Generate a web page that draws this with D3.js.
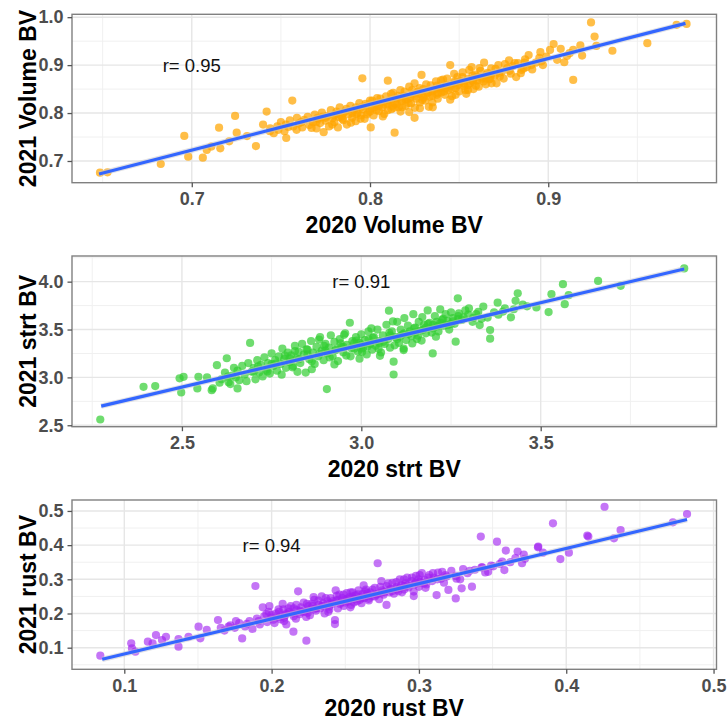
<!DOCTYPE html>
<html><head><meta charset="utf-8">
<script src="https://cdn.jsdelivr.net/npm/d3@7"></script>
<style>body{margin:0;background:#fff}svg{display:block}</style>
</head><body>
<script>
// ---------- DATA ----------
const volumePoints = [[0.6485,0.6756],[0.6527,0.6764],[0.6826,0.6937],[0.6958,0.7522],[0.698,0.709],[0.7062,0.707],[0.7084,0.723],[0.711,0.730],[0.7153,0.7695],[0.716,0.7265],[0.7243,0.794],[0.7252,0.759],[0.721,0.741],[0.736,0.731],[0.731,0.752],[0.742,0.803],[0.740,0.776],[0.744,0.768],[0.746,0.758],[0.748,0.772],[0.750,0.781],[0.752,0.762],[0.753,0.748],[0.755,0.785],[0.7564,0.826],[0.757,0.772],[0.759,0.790],[0.760,0.778],[0.762,0.770],[0.763,0.786],[0.765,0.792],[0.766,0.775],[0.768,0.781],[0.769,0.797],[0.770,0.768],[0.771,0.788],[0.772,0.779],[0.773,0.801],[0.774,0.760],[0.775,0.784],[0.776,0.794],[0.777,0.772],[0.778,0.806],[0.779,0.789],[0.780,0.781],[0.781,0.798],[0.782,0.770],[0.783,0.812],[0.784,0.793],[0.785,0.785],[0.786,0.803],[0.787,0.776],[0.788,0.797],[0.789,0.815],[0.790,0.790],[0.791,0.806],[0.792,0.783],[0.793,0.800],[0.794,0.821],[0.795,0.795],[0.7957,0.8725],[0.796,0.808],[0.797,0.788],[0.798,0.815],[0.799,0.801],[0.8004,0.770],[0.800,0.826],[0.801,0.810],[0.802,0.795],[0.803,0.818],[0.804,0.831],[0.805,0.804],[0.806,0.822],[0.807,0.812],[0.808,0.798],[0.809,0.835],[0.810,0.8676],[0.810,0.818],[0.811,0.826],[0.812,0.808],[0.813,0.842],[0.8138,0.759],[0.814,0.820],[0.815,0.830],[0.816,0.812],[0.817,0.848],[0.818,0.825],[0.819,0.836],[0.820,0.815],[0.821,0.829],[0.822,0.855],[0.823,0.820],[0.824,0.839],[0.825,0.790],[0.825,0.862],[0.826,0.830],[0.827,0.845],[0.828,0.822],[0.8289,0.8795],[0.829,0.838],[0.830,0.850],[0.831,0.826],[0.832,0.842],[0.833,0.813],[0.834,0.858],[0.835,0.836],[0.836,0.848],[0.837,0.866],[0.838,0.830],[0.839,0.852],[0.840,0.843],[0.841,0.870],[0.842,0.838],[0.843,0.858],[0.844,0.848],[0.845,0.900],[0.846,0.835],[0.847,0.862],[0.848,0.852],[0.849,0.875],[0.850,0.845],[0.851,0.866],[0.852,0.885],[0.853,0.856],[0.854,0.840],[0.855,0.872],[0.856,0.862],[0.857,0.896],[0.858,0.850],[0.859,0.880],[0.860,0.868],[0.861,0.855],[0.862,0.888],[0.863,0.874],[0.864,0.905],[0.865,0.860],[0.866,0.884],[0.867,0.870],[0.868,0.893],[0.870,0.878],[0.871,0.862],[0.872,0.900],[0.874,0.886],[0.875,0.872],[0.877,0.894],[0.878,0.910],[0.879,0.882],[0.880,0.898],[0.882,0.875],[0.883,0.904],[0.885,0.890],[0.887,0.912],[0.888,0.896],[0.889,0.921],[0.891,0.891],[0.893,0.905],[0.895,0.915],[0.8956,0.927],[0.897,0.900],[0.899,0.918],[0.901,0.9317],[0.903,0.944],[0.905,0.911],[0.907,0.934],[0.909,0.906],[0.912,0.925],[0.914,0.869],[0.914,0.932],[0.918,0.941],[0.919,0.920],[0.924,0.989],[0.926,0.9595],[0.927,0.940],[0.936,0.930],[0.9556,0.9457],[0.972,0.984],[0.9776,0.986],[0.790,0.800],[0.795,0.812],[0.800,0.803],[0.805,0.815],[0.810,0.806],[0.815,0.818],[0.820,0.828],[0.825,0.835],[0.830,0.832],[0.835,0.845],[0.840,0.852],[0.845,0.857],[0.850,0.860],[0.855,0.858],[0.860,0.876],[0.865,0.872],[0.780,0.795],[0.785,0.800],[0.775,0.790],[0.770,0.782],[0.818,0.812],[0.828,0.810],[0.838,0.842],[0.848,0.838],[0.858,0.866],[0.868,0.880],[0.845,0.828],[0.855,0.848],[0.835,0.822],[0.822,0.802],
[0.7615,0.781],[0.7672,0.769],[0.7733,0.792],[0.7788,0.776],[0.7812,0.803],[0.7845,0.788],[0.7868,0.809],[0.7893,0.780],[0.7921,0.812],[0.7947,0.788],[0.7975,0.819],[0.7982,0.797],[0.8013,0.826],[0.8036,0.806],[0.8058,0.830],[0.8072,0.793],[0.8095,0.822],[0.8118,0.840],[0.8133,0.811],[0.8157,0.836],[0.8171,0.803],[0.8194,0.845],[0.8217,0.821],[0.8236,0.848],[0.8252,0.811],[0.8278,0.852],[0.8293,0.827],[0.8315,0.860],[0.8334,0.834],[0.8352,0.812],[0.8376,0.857],[0.8398,0.868],[0.8415,0.845],[0.8433,0.872],[0.8457,0.850],[0.8472,0.882],[0.8493,0.858],[0.8518,0.875],[0.8535,0.848],[0.8557,0.890],[0.8576,0.868],[0.8594,0.857],[0.8615,0.894],[0.8637,0.866],[0.8656,0.880],[0.8682,0.862],[0.8704,0.892],[0.8728,0.876],[0.8757,0.902],[0.8783,0.888],[0.8812,0.904],[0.8846,0.883],[0.8868,0.905],[0.8905,0.900],[0.7542,0.771],[0.7486,0.765],[0.7438,0.762],[0.7528,0.776],[0.7588,0.765],[0.7705,0.790],[0.8025,0.812],[0.8125,0.815],[0.8225,0.832],[0.8325,0.843],[0.8425,0.853],[0.8525,0.862],[0.8625,0.871],[0.8725,0.884],[0.7925,0.798],[0.7825,0.792],[0.8175,0.828],[0.8375,0.838],[0.8475,0.866],[0.8275,0.840],[0.8075,0.818],[0.8575,0.878],[0.8675,0.872],[0.8862,0.893],[0.8962,0.908],[0.9105,0.919]];

const strtPoints = [[2.2724,2.56],[2.393,2.902],[2.4256,2.909],[2.4935,2.990],[2.5046,3.006],[2.498,2.843],[2.546,3.006],[2.543,2.885],[2.570,3.0],[2.583,2.867],[2.586,2.885],[2.5975,3.128],[2.61,2.98],[2.62,3.05],[2.625,3.20],[2.63,2.95],[2.635,2.93],[2.64,3.02],[2.645,3.10],[2.65,3.00],[2.655,3.07],[2.66,2.97],[2.668,3.12],[2.675,3.03],[2.68,2.96],[2.685,3.15],[2.69,3.36],[2.695,3.06],[2.70,3.10],[2.705,2.98],[2.71,3.18],[2.715,3.05],[2.72,3.13],[2.725,3.01],[2.73,3.21],[2.735,3.08],[2.74,3.15],[2.745,3.04],[2.75,3.25],[2.755,3.12],[2.76,3.18],[2.765,3.07],[2.77,3.22],[2.775,3.14],[2.78,3.30],[2.785,3.19],[2.79,3.10],[2.795,3.26],[2.80,3.16],[2.805,3.23],[2.81,3.12],[2.815,3.33],[2.82,3.20],[2.825,3.27],[2.83,3.15],[2.835,3.35],[2.84,3.24],[2.845,3.05],[2.85,3.29],[2.855,3.19],[2.86,3.38],[2.865,3.26],[2.87,3.14],[2.875,3.32],[2.88,3.22],[2.885,3.42],[2.89,3.28],[2.895,3.18],[2.904,2.878],[2.90,3.35],[2.905,3.25],[2.91,3.31],[2.915,3.44],[2.92,3.22],[2.925,3.37],[2.93,3.29],[2.935,3.17],[2.94,3.40],[2.945,3.32],[2.95,3.26],[2.955,3.46],[2.96,3.34],[2.968,3.571],[2.97,3.22],[2.975,3.38],[2.98,3.30],[2.985,3.42],[2.99,3.27],[2.995,3.36],[3.00,3.45],[3.005,3.31],[3.01,3.39],[3.015,3.24],[3.02,3.48],[3.025,3.35],[3.03,3.29],[3.035,3.42],[3.04,3.33],[3.045,3.50],[3.05,3.38],[3.055,3.26],[3.06,3.44],[3.065,3.35],[3.07,3.55],[3.077,3.697],[3.075,3.40],[3.08,3.31],[3.085,3.48],[3.09,3.03],[3.09,3.164],[3.095,3.42],[3.10,3.58],[3.105,3.36],[3.11,3.50],[3.115,3.45],[3.12,3.62],[3.125,3.39],[3.13,3.54],[3.135,3.48],[3.14,3.43],[3.145,3.66],[3.15,3.52],[3.155,3.40],[3.16,3.58],[3.165,3.49],[3.17,3.63],[3.175,3.55],[3.18,3.46],[3.185,3.70],[3.19,3.57],[3.199,3.25],[3.20,3.51],[3.205,3.64],[3.21,3.58],[3.215,3.48],[3.22,3.71],[3.225,3.60],[3.23,3.54],[3.235,3.66],[3.24,3.59],[3.245,3.50],[3.25,3.68],[3.255,3.62],[3.263,3.373],[3.26,3.56],[3.269,3.826],[3.27,3.64],[3.28,3.60],[3.29,3.70],[3.30,3.72],[3.31,3.58],[3.32,3.66],[3.33,3.547],[3.34,3.74],[3.359,3.495],[3.359,3.404],[3.37,3.68],[3.38,3.78],[3.40,3.72],[3.417,3.627],[3.43,3.80],[3.436,3.878],[3.45,3.76],[3.488,3.731],[3.522,3.682],[3.53,3.869],[3.562,3.974],[3.567,3.765],[3.578,3.859],[3.660,4.008],[3.723,3.956],[3.9,4.138],[2.80,3.20],[2.85,3.24],[2.90,3.28],[2.95,3.32],[3.00,3.34],[3.05,3.36],[3.10,3.40],[3.15,3.47],[3.20,3.55],[3.25,3.56],[3.00,3.30],[2.98,3.36],[3.02,3.40],[3.08,3.44],[3.12,3.46],[3.18,3.52],[3.22,3.57],[3.27,3.61],[2.75,3.14],[2.70,3.06],
[2.712,3.115],[2.738,3.062],[2.762,3.145],[2.787,3.228],[2.808,3.105],[2.826,3.190],[2.847,3.292],[2.862,3.168],[2.883,3.245],[2.896,3.330],[2.912,3.208],[2.928,3.285],[2.942,3.355],[2.958,3.228],[2.972,3.305],[2.987,3.385],[3.002,3.265],[3.018,3.325],[3.032,3.412],[3.048,3.298],[3.062,3.372],[3.078,3.465],[3.093,3.335],[3.108,3.428],[3.118,3.302],[3.132,3.455],[3.147,3.512],[3.158,3.435],[3.172,3.498],[3.186,3.558],[3.196,3.468],[3.212,3.535],[3.228,3.612],[3.242,3.548],[3.256,3.586],[3.272,3.668],[3.285,3.628],[3.298,3.655],[3.312,3.622],[3.326,3.685],[2.995,3.195],[3.052,3.225],[3.118,3.285],[2.862,3.085],[2.822,3.058],[2.778,3.028],[2.655,2.885],[2.628,3.008],[2.605,2.945],[2.925,3.135],[3.142,3.355],[3.208,3.425],[3.168,3.385],[2.952,3.445],[3.028,3.512],[3.088,3.585],[2.882,3.395],[2.815,3.275],[3.352,3.625],[3.395,3.688],[3.425,3.712],[3.462,3.742],[3.335,3.612],[3.382,3.655]];

const rustPoints = [[0.0837,0.0766],[0.1047,0.1129],[0.1052,0.098],[0.1075,0.0883],[0.116,0.1175],[0.1192,0.1129],[0.1215,0.137],[0.1256,0.1225],[0.1283,0.132],[0.1368,0.1254],[0.1368,0.103],[0.1436,0.132],[0.1504,0.1614],[0.1516,0.1275],[0.156,0.152],[0.1636,0.181],[0.168,0.150],[0.172,0.165],[0.175,0.158],[0.178,0.172],[0.180,0.127],[0.182,0.162],[0.185,0.178],[0.187,0.155],[0.189,0.2805],[0.190,0.185],[0.192,0.168],[0.194,0.218],[0.195,0.192],[0.197,0.175],[0.198,0.205],[0.200,0.188],[0.202,0.172],[0.203,0.200],[0.205,0.205],[0.206,0.183],[0.208,0.212],[0.209,0.195],[0.210,0.168],[0.212,0.205],[0.213,0.222],[0.2148,0.1468],[0.215,0.192],[0.217,0.210],[0.218,0.265],[0.219,0.198],[0.220,0.218],[0.2236,0.1205],[0.222,0.205],[0.224,0.228],[0.225,0.212],[0.226,0.195],[0.228,0.222],[0.229,0.240],[0.230,0.208],[0.232,0.225],[0.233,0.215],[0.234,0.250],[0.235,0.230],[0.236,0.200],[0.238,0.236],[0.239,0.220],[0.240,0.245],[0.241,0.228],[0.243,0.169],[0.243,0.181],[0.244,0.238],[0.245,0.215],[0.246,0.255],[0.247,0.232],[0.248,0.245],[0.249,0.222],[0.250,0.240],[0.251,0.260],[0.252,0.235],[0.253,0.248],[0.254,0.225],[0.255,0.262],[0.256,0.242],[0.257,0.253],[0.258,0.236],[0.259,0.268],[0.260,0.248],[0.261,0.230],[0.262,0.258],[0.263,0.245],[0.264,0.270],[0.265,0.252],[0.266,0.238],[0.267,0.262],[0.268,0.250],[0.270,0.275],[0.272,0.347],[0.272,0.258],[0.273,0.242],[0.275,0.268],[0.276,0.255],[0.278,0.225],[0.278,0.280],[0.280,0.262],[0.281,0.272],[0.282,0.290],[0.283,0.258],[0.285,0.278],[0.286,0.265],[0.287,0.300],[0.288,0.282],[0.290,0.270],[0.291,0.288],[0.292,0.305],[0.293,0.276],[0.295,0.295],[0.2965,0.251],[0.2965,0.264],[0.297,0.285],[0.298,0.310],[0.2997,0.300],[0.300,0.278],[0.301,0.292],[0.302,0.318],[0.304,0.298],[0.305,0.285],[0.307,0.312],[0.309,0.295],[0.310,0.305],[0.312,0.254],[0.313,0.320],[0.315,0.302],[0.317,0.290],[0.318,0.312],[0.320,0.269],[0.322,0.325],[0.325,0.244],[0.325,0.310],[0.328,0.300],[0.329,0.2737],[0.330,0.330],[0.333,0.318],[0.336,0.2785],[0.338,0.328],[0.342,0.425],[0.343,0.335],[0.345,0.320],[0.347,0.322],[0.349,0.340],[0.353,0.410],[0.355,0.345],[0.358,0.327],[0.359,0.384],[0.362,0.350],[0.367,0.381],[0.370,0.347],[0.372,0.360],[0.3808,0.3935],[0.3842,0.3778],[0.381,0.396],[0.391,0.4637],[0.396,0.3593],[0.4018,0.3778],[0.4143,0.4281],[0.415,0.425],[0.426,0.5123],[0.4324,0.420],[0.4369,0.444],[0.4724,0.4667],[0.482,0.491],[0.200,0.195],[0.210,0.200],[0.220,0.205],[0.230,0.215],[0.240,0.230],[0.250,0.232],[0.260,0.240],[0.270,0.250],[0.280,0.270],[0.290,0.280],[0.300,0.290],[0.225,0.222],[0.235,0.222],[0.245,0.240],[0.255,0.250],[0.265,0.260],[0.275,0.262],[0.285,0.270],[0.215,0.215],[0.205,0.190],
[0.1912,0.178],[0.1965,0.198],[0.2012,0.182],[0.2047,0.212],[0.2086,0.188],[0.2115,0.215],[0.2142,0.200],[0.2168,0.225],[0.2196,0.208],[0.2218,0.232],[0.2245,0.202],[0.2272,0.228],[0.2294,0.214],[0.2318,0.238],[0.2342,0.222],[0.2368,0.245],[0.2392,0.212],[0.2415,0.236],[0.2442,0.252],[0.2465,0.228],[0.2488,0.255],[0.2512,0.243],[0.2536,0.262],[0.2558,0.232],[0.2585,0.256],[0.2612,0.245],[0.2636,0.265],[0.2658,0.243],[0.2685,0.270],[0.2712,0.255],[0.2738,0.278],[0.2765,0.262],[0.2792,0.288],[0.2818,0.265],[0.2846,0.292],[0.2872,0.276],[0.2898,0.300],[0.2925,0.282],[0.2952,0.305],[0.2978,0.290],[0.3005,0.312],[0.3035,0.288],[0.3062,0.305],[0.3095,0.318],[0.3125,0.300],[0.3158,0.322],[0.3188,0.308],[0.2235,0.190],[0.2165,0.185],[0.2085,0.178],[0.2385,0.205],[0.2535,0.218],[0.2285,0.248],[0.2435,0.268],[0.2075,0.228],[0.1985,0.222],[0.1758,0.178],[0.1708,0.162],[0.1655,0.158],[0.1832,0.170],[0.2625,0.282],[0.2745,0.295],[0.2885,0.262],[0.3045,0.275],[0.3255,0.302],[0.3345,0.325],[0.3425,0.335],[0.3505,0.338],[0.3565,0.352],[0.3655,0.362],[0.3712,0.372]];

// fitted line end points
const volumeFit = [[0.648,0.673],[0.977,0.987]];
const strtFit = [[2.275,2.700],[3.900,4.132]];
const rustFit = [[0.085,0.066],[0.482,0.475]];

const xTitles = ["2020 Volume BV", "2020 strt BV", "2020 rust BV"];
const yTitles = ["2021 Volume BV", "2021 strt BV", "2021 rust BV"];
const rLabels = ["r= 0.95", "r= 0.91", "r= 0.94"];
const rLabelPos = [[0.7, 0.9], [3.0, 4.0], [0.2, 0.4]];

const volXTicks = [0.7, 0.8, 0.9];
const volYTicks = [0.7, 0.8, 0.9, 1.0];
const strtXTicks = [2.5, 3.0, 3.5];
const strtYTicks = [2.5, 3.0, 3.5, 4.0];
const rustXTicks = [0.1, 0.2, 0.3, 0.4, 0.5];
const rustYTicks = [0.1, 0.2, 0.3, 0.4, 0.5];

const volXMinor = [0.65, 0.75, 0.85, 0.95];
const volYMinor = [0.75, 0.85, 0.95];
const strtXMinor = [2.25, 2.75, 3.25, 3.75];
const strtYMinor = [2.75, 3.25, 3.75, 4.25];
const rustXMinor = [0.15, 0.25, 0.35, 0.45];
const rustYMinor = [0.05, 0.15, 0.25, 0.35, 0.45];

const pointColors = ["#FFA500", "#32CD32", "#A020F0"];

// ---------- LAYOUT ----------
const W = 728, H = 721;
const panels = [
  {pts: volumePoints, fit: volumeFit, xd: [0.6328, 0.9944], yd: [0.6547, 1.006],
   xt: volXTicks, yt: volYTicks, xm: volXMinor, ym: volYMinor,
   top: 14.3, bottom: 182.7, titleY: 232.5, op: 0.72},
  {pts: strtPoints, fit: strtFit, xd: [2.1936, 3.990], yd: [2.485, 4.268],
   xt: strtXTicks, yt: strtYTicks, xm: strtXMinor, ym: strtYMinor,
   top: 256, bottom: 426.7, titleY: 476.5, op: 0.7},
  {pts: rustPoints, fit: rustFit, xd: [0.0645, 0.502], yd: [0.0368, 0.532],
   xt: rustXTicks, yt: rustYTicks, xm: rustXMinor, ym: rustYMinor,
   top: 500, bottom: 669.3, titleY: 715.5, op: 0.62}
];
const left = 72, right = 716.5;
const fmt = d3.format(".1f");

const svg = d3.select("body").append("svg").attr("width", W).attr("height", H)
  .style("font-family", "'Liberation Sans', Arial, Helvetica, sans-serif");

panels.forEach((p, i) => {
  const x = d3.scaleLinear().domain(p.xd).range([left, right]);
  const y = d3.scaleLinear().domain(p.yd).range([p.bottom, p.top]);
  const g = svg.append("g");

  // grid
  const grid = g.append("g");
  grid.selectAll(".vmin").data(p.xm).join("line")
    .attr("x1", d => x(d)).attr("x2", d => x(d)).attr("y1", p.top).attr("y2", p.bottom)
    .attr("stroke", "#f0f0f0").attr("stroke-width", 1);
  grid.selectAll(".hmin").data(p.ym).join("line")
    .attr("y1", d => y(d)).attr("y2", d => y(d)).attr("x1", left).attr("x2", right)
    .attr("stroke", "#f0f0f0").attr("stroke-width", 1);
  grid.selectAll(".vmaj").data(p.xt).join("line")
    .attr("x1", d => x(d)).attr("x2", d => x(d)).attr("y1", p.top).attr("y2", p.bottom)
    .attr("stroke", "#e6e6e6").attr("stroke-width", 1.4);
  grid.selectAll(".hmaj").data(p.yt).join("line")
    .attr("y1", d => y(d)).attr("y2", d => y(d)).attr("x1", left).attr("x2", right)
    .attr("stroke", "#e6e6e6").attr("stroke-width", 1.4);

  // points
  g.append("g").selectAll("circle").data(p.pts).join("circle")
    .attr("cx", d => x(d[0])).attr("cy", d => y(d[1])).attr("r", 4.1)
    .attr("fill", pointColors[i]).attr("fill-opacity", p.op);

  // fit line with faint confidence halo
  g.append("line")
    .attr("x1", x(p.fit[0][0])).attr("y1", y(p.fit[0][1]))
    .attr("x2", x(p.fit[1][0])).attr("y2", y(p.fit[1][1]))
    .attr("stroke", "#c8c8d0").attr("stroke-width", 5.5).attr("stroke-opacity", 0.55);
  g.append("line")
    .attr("x1", x(p.fit[0][0])).attr("y1", y(p.fit[0][1]))
    .attr("x2", x(p.fit[1][0])).attr("y2", y(p.fit[1][1]))
    .attr("stroke", "#3366FF").attr("stroke-width", 3.2);

  // r label
  g.append("text").attr("x", x(rLabelPos[i][0])).attr("y", y(rLabelPos[i][1])).attr("dy", "0.35em")
    .attr("text-anchor", "middle").attr("font-size", 18.5).attr("fill", "#111").text(rLabels[i]);

  // border
  g.append("rect").attr("x", left).attr("y", p.top).attr("width", right - left).attr("height", p.bottom - p.top)
    .attr("fill", "none").attr("stroke", "#808080").attr("stroke-width", 1.4);

  // axes
  const xa = g.append("g").attr("transform", `translate(0,${p.bottom})`)
    .call(d3.axisBottom(x).tickValues(p.xt).tickFormat(fmt).tickSize(4.5).tickPadding(5));
  const ya = g.append("g").attr("transform", `translate(${left},0)`)
    .call(d3.axisLeft(y).tickValues(p.yt).tickFormat(fmt).tickSize(4.5).tickPadding(4));
  [xa, ya].forEach(a => {
    a.select(".domain").remove();
    a.selectAll(".tick line").attr("stroke", "#555").attr("stroke-width", 1.3);
    a.selectAll(".tick text").attr("fill", "#4d4d4d").attr("font-size", 18).attr("font-weight", "bold")
      .style("font-family", "'Liberation Sans', Arial, sans-serif");
  });

  // titles
  g.append("text").attr("x", (left + right) / 2).attr("y", p.titleY)
    .attr("text-anchor", "middle").attr("font-size", 23).attr("font-weight", "bold").attr("fill", "#000")
    .text(xTitles[i]);
  g.append("text").attr("transform", `translate(36,${(p.top + p.bottom) / 2}) rotate(-90)`)
    .attr("text-anchor", "middle").attr("font-size", 23).attr("font-weight", "bold").attr("fill", "#000")
    .text(yTitles[i]);
});
</script>
</body></html>
